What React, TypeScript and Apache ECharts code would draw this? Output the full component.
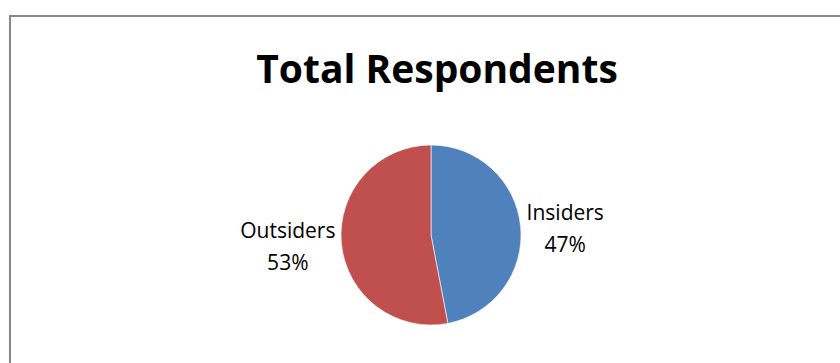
import React, { useEffect, useRef } from "react";
import * as echarts from "echarts";

const titleText = "Total Respondents";
const categories = ["Insiders", "Outsiders"];
const values = [47, 53];
const colors = ["#4F81BD", "#C0504D"];

export default function App() {
  const ref = useRef<HTMLDivElement>(null);
  useEffect(() => {
    if (!ref.current) return;
    const chart = echarts.init(ref.current, null, { renderer: "svg" });
    chart.setOption({
      animation: false,
      backgroundColor: "#ffffff",
      title: {
        text: titleText,
        left: 432,
        top: 40,
        textAlign: "center",
        textStyle: {
          fontFamily: "Open Sans",
          fontWeight: "bold",
          fontSize: 39,
          lineHeight: 44,
          color: "#000000",
        },
      },
      graphic: [
        {
          type: "rect",
          shape: { x: 10, y: 16, width: 900, height: 400 },
          style: { fill: "none", stroke: "#878787", lineWidth: 2 },
          silent: true,
          z: 100,
        },
      ],
      series: [
        {
          type: "pie",
          center: [431, 235],
          radius: [0, 90],
          startAngle: 90,
          clockwise: true,
          data: categories.map((c, i) => ({
            name: c,
            value: values[i],
            itemStyle: { color: colors[i] },
          })),
          itemStyle: { borderColor: "rgba(255,255,255,0.6)", borderWidth: 1 },
          label: {
            show: true,
            position: "outside",
            formatter: "{b}\n{d}%",
            fontFamily: "Open Sans",
            fontSize: 21,
            lineHeight: 32,
            color: "#000000",
            distanceToLabelLine: 0,
          },
          labelLine: { show: false, length: 6, length2: 0 },
          labelLayout: (params: any) => ({
            x: params.labelRect.x + params.labelRect.width / 2,
            y: params.labelRect.y + params.labelRect.height / 2 + 2,
            align: "center",
            verticalAlign: "middle",
          }),
          emphasis: { disabled: true },
        },
      ],
    });
    return () => chart.dispose();
  }, []);
  return (
    <div
      ref={ref}
      style={{ position: "absolute", left: 0, top: 0, width: 840, height: 363 }}
    />
  );
}
